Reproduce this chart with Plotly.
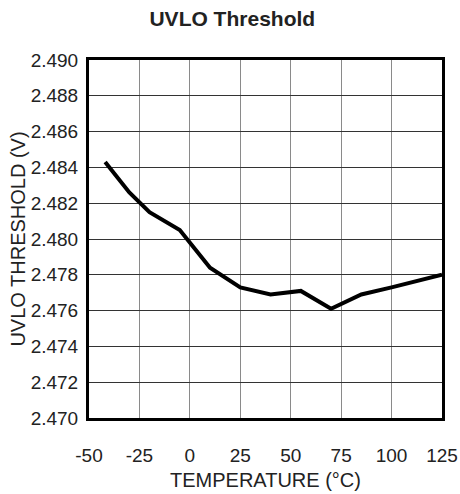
import plotly.graph_objects as go

# UVLO threshold vs temperature
temperature_c = [-42, -30, -20, -5, 10, 25, 40, 55, 70, 85, 100, 111, 125]
threshold_v = [2.4843, 2.4826, 2.4815, 2.4805, 2.4784, 2.4773, 2.4769,
               2.4771, 2.4761, 2.4769, 2.4773, 2.4776, 2.4780]

x_ticks = [-50, -25, 0, 25, 50, 75, 100, 125]
y_ticks = [2.470, 2.472, 2.474, 2.476, 2.478, 2.480, 2.482, 2.484, 2.486, 2.488, 2.490]

font_family = "Liberation Sans, Arial, sans-serif"
text_color = "#222222"

fig = go.Figure()
fig.add_trace(go.Scatter(
    x=temperature_c,
    y=threshold_v,
    mode="lines",
    line=dict(color="black", width=4),
    showlegend=False,
    hoverinfo="skip",
))

fig.update_layout(
    width=460,
    height=494,
    template="none",
    paper_bgcolor="white",
    plot_bgcolor="white",
    margin=dict(l=89, r=18, t=60, b=76),
    font=dict(family=font_family, size=19, color=text_color),
    title=dict(
        text="<b>UVLO Threshold</b>",
        x=0.505,
        xanchor="center",
        y=0.962,
        yanchor="middle",
        font=dict(size=21, color=text_color),
    ),
    annotations=[
        # x-axis title, placed just below the tick labels
        dict(text="TEMPERATURE (°C)", x=0.5, y=-(480 - 418) / (494 - 60 - 76),
             xref="paper", yref="paper", showarrow=False,
             font=dict(size=20), yanchor="middle"),
    ],
)

fig.update_xaxes(
    range=[-50, 125],
    tickvals=x_ticks,
    ticktext=[str(v) for v in x_ticks],
    ticks="outside",
    ticklen=18,
    tickcolor="rgba(0,0,0,0)",
    showgrid=True,
    gridcolor="#8a8a8a",
    gridwidth=1,
    zeroline=False,
    showline=True,
    linecolor="black",
    linewidth=3,
    mirror=True,
    automargin=False,
)

fig.update_yaxes(
    range=[2.470, 2.490],
    tickvals=y_ticks,
    ticktext=[f"{v:.3f}" for v in y_ticks],
    ticks="outside",
    ticklen=4,
    tickcolor="rgba(0,0,0,0)",
    showgrid=True,
    gridcolor="#333333",
    gridwidth=1,
    zeroline=False,
    showline=True,
    linecolor="black",
    linewidth=3,
    mirror=True,
    automargin=False,
    title=dict(text="UVLO THRESHOLD (V)", font=dict(size=20), standoff=0),
)

# drop the default page margin so the figure sits at the window's top-left corner
fig.write_html(
    "out.html",
    config={"displayModeBar": False},
    post_script="document.body.style.margin='0px';",
)
